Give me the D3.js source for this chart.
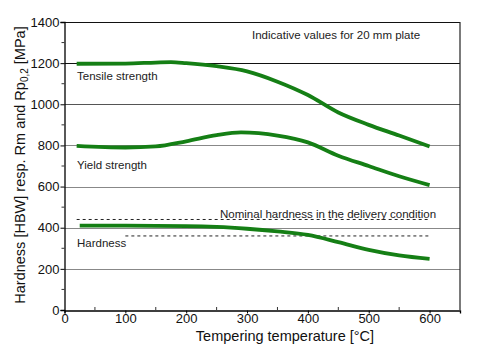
<!DOCTYPE html>
<html>
<head>
<meta charset="utf-8">
<script src="https://cdn.jsdelivr.net/npm/d3@7"></script>
<style>
  html, body { margin: 0; padding: 0; background: #fff; }
  svg { display: block; font-family: "Liberation Sans", Arial, sans-serif; }
</style>
</head>
<body>
<div id="chart"></div>
<script>
// Tempering curves, 20 mm plate
const tensileTemp = [20, 100, 150, 175, 200, 250, 300, 350, 400, 450, 500, 550, 600];
const tensileVal  = [1197, 1198, 1203, 1205, 1200, 1185, 1160, 1110, 1045, 960, 900, 848, 795];

const yieldTemp = [20, 100, 150, 200, 250, 290, 350, 400, 450, 500, 550, 600];
const yieldVal  = [798, 790, 795, 820, 850, 863, 848, 815, 750, 700, 650, 607];

const hardTemp = [25, 100, 200, 250, 300, 350, 400, 450, 500, 550, 600];
const hardVal  = [410, 410, 408, 404, 395, 382, 365, 330, 292, 265, 248];

// nominal hardness bands (dashed)
const nominalUpper = { from: 20, to: 600, value: 440 };
const nominalLower = { from: 100, to: 600, value: 360 };

const xTicks = [0, 100, 200, 300, 400, 500, 600];
const yTicks = [0, 200, 400, 600, 800, 1000, 1200, 1400];

const width = 480, height = 348;
const svg = d3.select('#chart').append('svg')
  .attr('width', width)
  .attr('height', height);

const x = d3.scaleLinear().domain([0, 650]).range([64.5, 460]);
const y = d3.scaleLinear().domain([0, 1400]).range([310, 22]);

// horizontal grid
svg.append('g')
  .selectAll('line')
  .data(yTicks.filter(d => d > 0))
  .enter().append('line')
    .attr('x1', x(0)).attr('x2', x(650))
    .attr('y1', d => Math.round(y(d)) + 0.5)
    .attr('y2', d => Math.round(y(d)) + 0.5)
    .attr('stroke', d => d === 1400 || d === 1200 ? '#111' : (d === 1000 ? '#555' : '#888'))
    .attr('stroke-width', 1.2);

// right border
svg.append('line')
  .attr('x1', x(650)).attr('x2', x(650))
  .attr('y1', y(1400)).attr('y2', y(0))
  .attr('stroke', '#222').attr('stroke-width', 1.2);

// axes
const xAxis = d3.axisBottom(x).tickValues(xTicks).tickSize(3).tickPadding(0).tickFormat(d3.format('d'));
const yAxis = d3.axisLeft(y).tickValues(yTicks).tickSize(4).tickPadding(1).tickFormat(d3.format('d'));

const gx = svg.append('g')
  .attr('transform', 'translate(0,' + (Math.round(y(0)) + 0.5) + ')')
  .call(xAxis);
const gy = svg.append('g')
  .attr('transform', 'translate(' + x(0) + ',0)')
  .call(yAxis);

[gx, gy].forEach(g => {
  g.select('.domain').attr('stroke', '#000').attr('stroke-width', 1.3);
  g.selectAll('.tick line').attr('stroke', '#000');
  g.selectAll('.tick text')
    .attr('fill', '#111')
    .style('font-size', '13px')
    .style('font-family', '"Liberation Sans", Arial, sans-serif');
});

// minor ticks
svg.append('g')
  .selectAll('line')
  .data(d3.range(50, 650, 100))
  .enter().append('line')
    .attr('x1', d => x(d)).attr('x2', d => x(d))
    .attr('y1', y(0)).attr('y2', y(0) - 3)
    .attr('stroke', '#333');
svg.append('g')
  .selectAll('line')
  .data(d3.range(100, 1400, 200))
  .enter().append('line')
    .attr('x1', x(0) - 3).attr('x2', x(0))
    .attr('y1', d => y(d)).attr('y2', d => y(d))
    .attr('stroke', '#333');

// dashed nominal hardness lines
[nominalUpper, nominalLower].forEach(n => {
  svg.append('line')
    .attr('x1', x(n.from)).attr('x2', x(n.to))
    .attr('y1', y(n.value)).attr('y2', y(n.value))
    .attr('stroke', '#222')
    .attr('stroke-width', 1)
    .attr('stroke-dasharray', '3,3');
});

// curves
const line = d3.line()
  .x(d => x(d[0]))
  .y(d => y(d[1]))
  .curve(d3.curveMonotoneX);

[[tensileTemp, tensileVal], [yieldTemp, yieldVal], [hardTemp, hardVal]].forEach(([t, v]) => {
  svg.append('path')
    .datum(t.map((d, i) => [d, v[i]]))
    .attr('d', line)
    .attr('fill', 'none')
    .attr('stroke', '#157f15')
    .attr('stroke-width', 3.8)
    .attr('stroke-linejoin', 'round');
});

// labels
const labels = [
  { text: 'Tensile strength', tx: 77, ty: 80, size: 11.5 },
  { text: 'Yield strength', tx: 77, ty: 169, size: 11.5 },
  { text: 'Hardness', tx: 77, ty: 247, size: 11.5 },
  { text: 'Nominal hardness in the delivery condition', tx: 220, ty: 218, size: 11.5 },
  { text: 'Indicative values for 20 mm plate', tx: 252, ty: 39, size: 11.5 }
];
svg.append('g')
  .selectAll('text')
  .data(labels)
  .enter().append('text')
    .attr('x', d => d.tx)
    .attr('y', d => d.ty)
    .style('font-size', d => d.size + 'px')
    .attr('fill', '#222')
    .text(d => d.text);

// axis titles
svg.append('text')
  .attr('x', 285)
  .attr('y', 341)
  .attr('text-anchor', 'middle')
  .style('font-size', '14.5px')
  .attr('fill', '#111')
  .text('Tempering temperature [°C]');

const yTitle = svg.append('text')
  .attr('transform', 'translate(25,' + 165 + ') rotate(-90)')
  .attr('text-anchor', 'middle')
  .style('font-size', '14.5px')
  .attr('fill', '#111');
yTitle.append('tspan').text('Hardness [HBW] resp. Rm and Rp');
yTitle.append('tspan').attr('dy', 3).style('font-size', '10px').text('0,2');
yTitle.append('tspan').attr('dy', -3).text(' [MPa]');
</script>
</body>
</html>
